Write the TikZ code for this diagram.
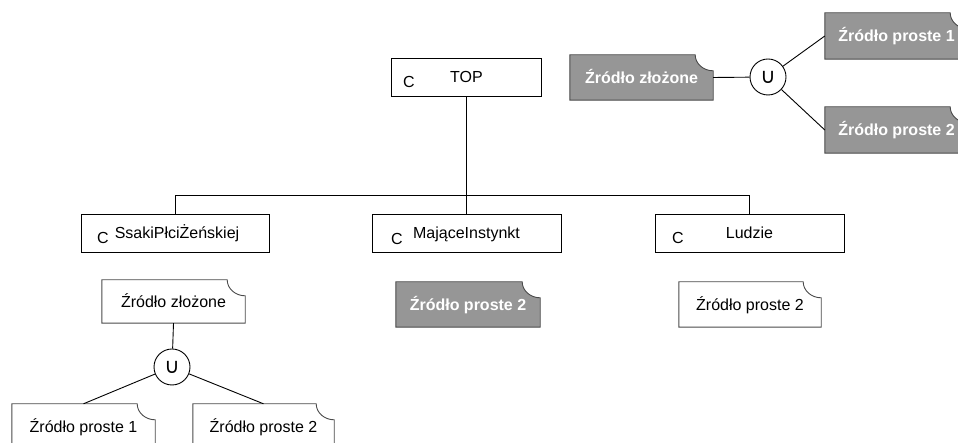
\documentclass[tikz,border=0pt]{standalone}
\usepackage{fontspec}
\usepackage{graphicx}
\setmainfont{Liberation Sans}
\newfontfamily\symfont{DejaVu Sans}
\usetikzlibrary{backgrounds}
\definecolor{srcgray}{HTML}{969696}
\definecolor{edgegray}{HTML}{4A4A4A}
\newcommand\notchoutline[2]{%
  \filldraw[fill=#2, draw=edgegray, line width=0.9pt]
    (#1.south west) -- (#1.north west) -- ([xshift=-18pt]#1.north east)
    arc[start angle=180, end angle=270, x radius=18pt, y radius=16pt]
    -- (#1.south east) -- cycle;}
\begin{document}
\begin{tikzpicture}[x=1pt,y=1pt,
  every node/.style={font=\fontsize{16}{19}\selectfont, inner sep=0pt, text height=11.5pt, text depth=0pt},
  classbox/.style={draw=black, line width=0.9pt, minimum height=38pt},
  srcbox/.style={minimum width=143pt, minimum height=45pt},
  srcwhite/.style={srcbox, text=black},
  srcdark/.style={srcbox, text=white, font=\fontsize{16}{19}\selectfont\bfseries},
  ctext/.style={},
  link/.style={draw=black, line width=0.9pt},
  unionc/.style={circle, draw=black, fill=white, minimum size=36pt, line width=0.9pt, text height=, text depth=,
    font=\symfont\fontsize{21}{24}\selectfont}
]
\useasboundingbox (0,0) rectangle (958,443);
\clip (0,0) rectangle (958,443);

% class boxes
\node[classbox, minimum width=150pt] (top) at (466.5,366) {TOP};
\node[classbox, minimum width=188pt] (ssaki) at (175,210) {\hspace{4pt}SsakiPłciŻeńskiej};
\node[classbox, minimum width=189pt] (maj) at (466.5,210) {MająceInstynkt};
\node[classbox, minimum width=189pt] (ludz) at (749.5,210) {Ludzie};
\node[ctext] (cT) at (409,361) {C};
\node[ctext] (cS) at (103,205) {C};
\node[ctext] (cM) at (397,204) {C};
\node[ctext] (cL) at (678,205) {C};

\coordinate (bus) at (466.5,248);
\draw[link] (top.south) -- (maj.north);
\draw[link] (ssaki.north) -- (ssaki.north |- bus) -- (ludz.north |- bus) -- (ludz.north);

% source boxes under classes
\node[srcdark, minimum width=144pt] (majsrc) at (468,138.5) {Źródło proste 2};
\node[srcwhite, minimum width=142pt] (ludsrc) at (750,138.5) {Źródło proste 2};

% bottom-left composite source
\node[srcwhite, minimum height=43pt] (zloz) at (173.5,141.5) {Źródło złożone};
\node[unionc] (u1) at (172,76) {∪};
\node[srcwhite] (p1) at (83.5,16.5) {Źródło proste 1};
\node[srcwhite, minimum width=141pt] (p2) at (263.5,16.5) {Źródło proste 2};
\draw[link] (zloz.south) -- (u1);
\draw[link] (u1) -- (p1.north);
\draw[link] (u1) -- (p2.north);

% top-right composite source
\node[srcdark] (zlozR) at (641.5,365.5) {Źródło złożone};
\node[unionc] (u2) at (768,366) {∪};
\node[srcdark, minimum height=46pt] (pR1) at (896.5,407) {Źródło proste 1};
\node[srcdark, minimum height=46pt] (pR2) at (896.5,313) {Źródło proste 2};
\draw[link] (zlozR.east) -- (u2);
\draw[link] (u2) -- (pR1.west);
\draw[link] (u2) -- (pR2.west);

\begin{scope}[on background layer]
  \clip (0,0) rectangle (958,443);
  \notchoutline{majsrc}{srcgray}
  \notchoutline{ludsrc}{white}
  \notchoutline{zloz}{white}
  \notchoutline{p1}{white}
  \notchoutline{p2}{white}
  \notchoutline{zlozR}{srcgray}
  \notchoutline{pR1}{srcgray}
  \notchoutline{pR2}{srcgray}
\end{scope}
\end{tikzpicture}
\end{document}
